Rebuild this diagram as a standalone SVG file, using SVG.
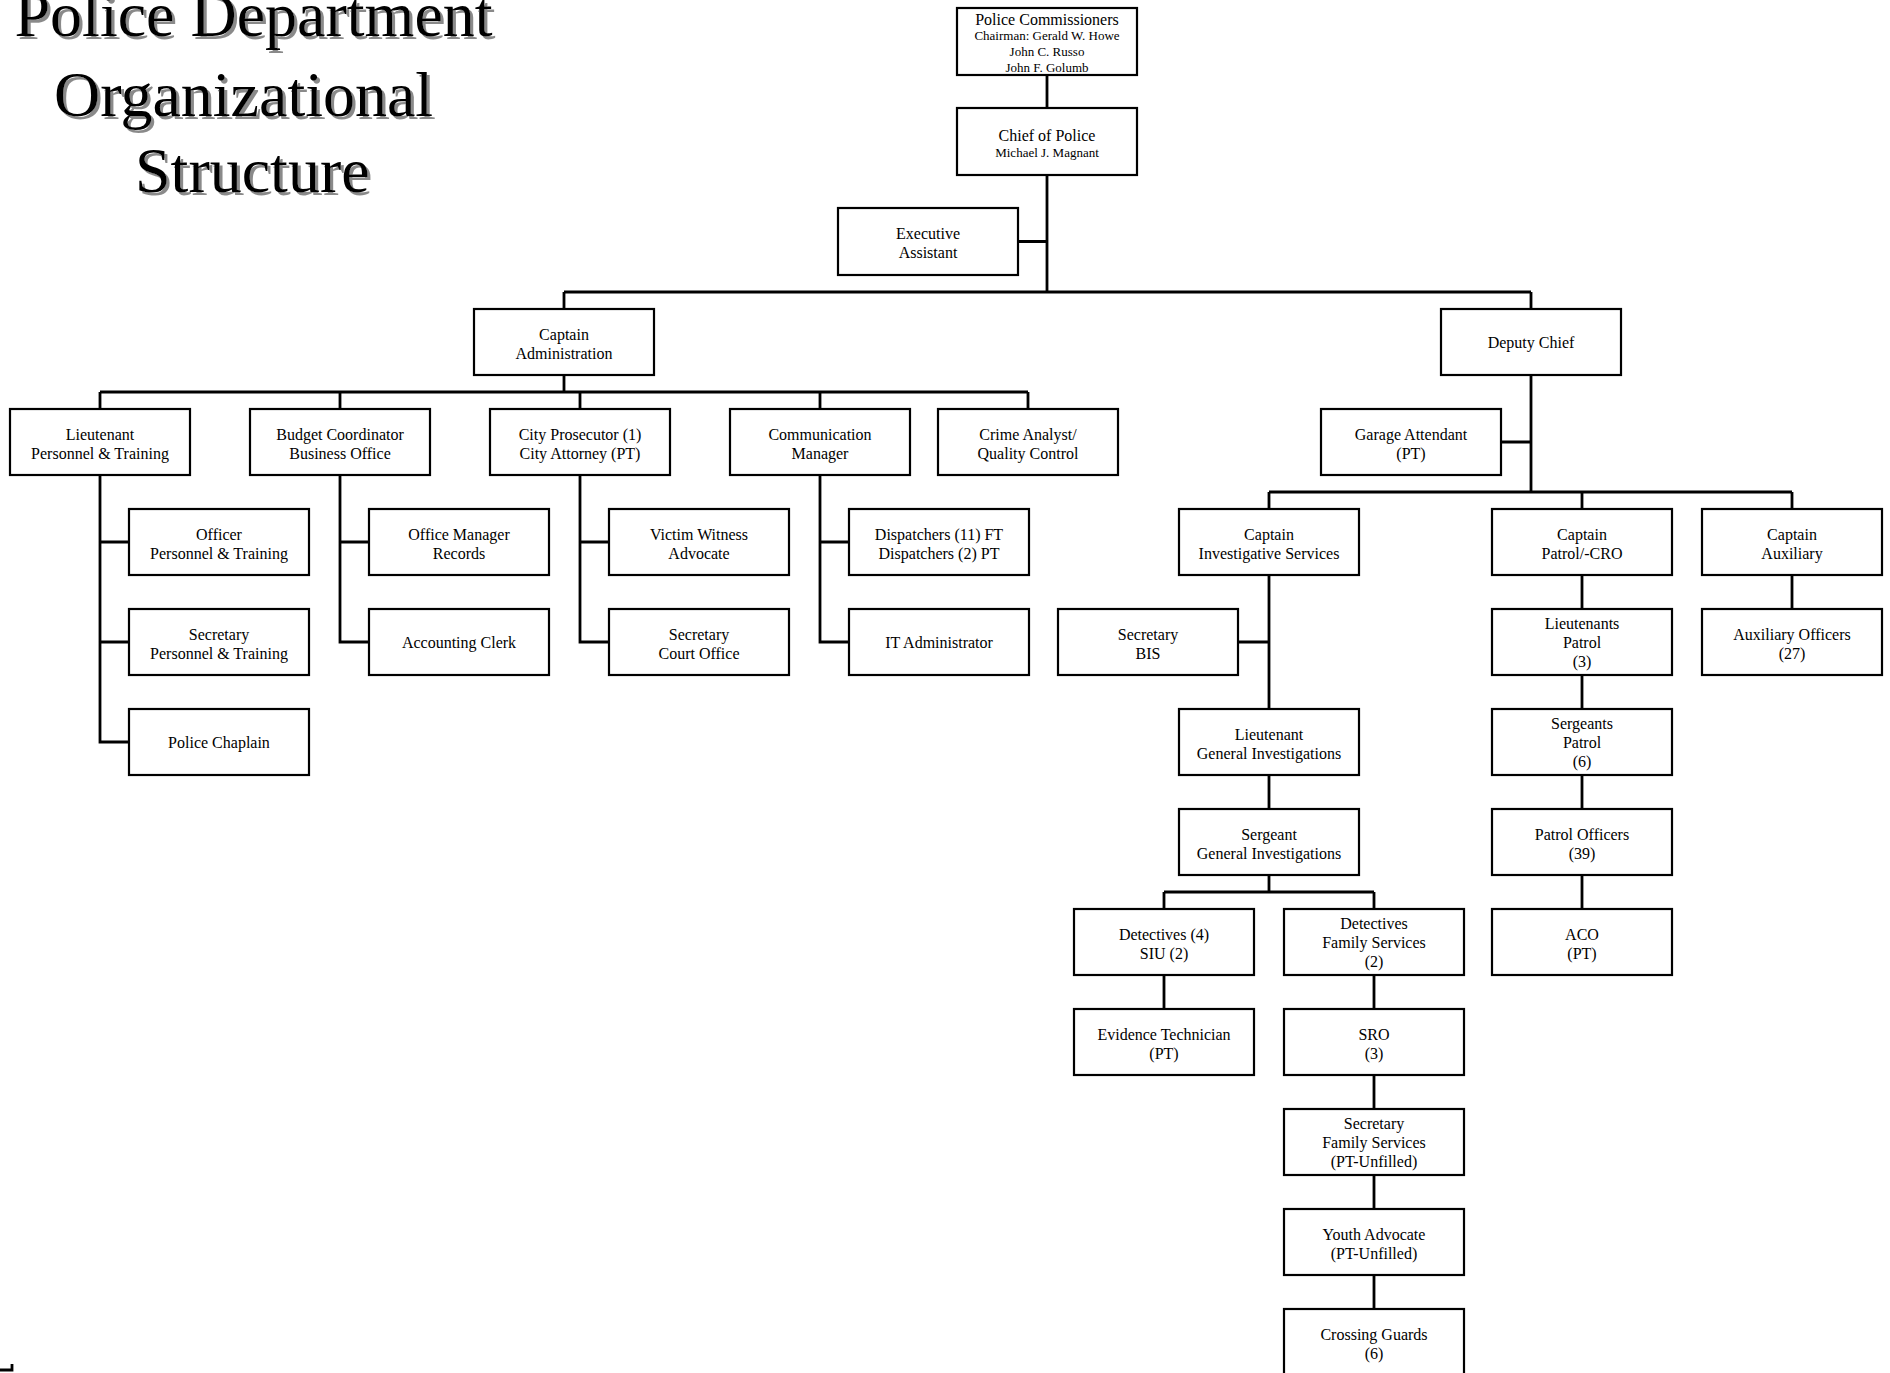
<svg xmlns="http://www.w3.org/2000/svg" width="1890" height="1373" viewBox="0 0 1890 1373">
<defs>
<filter id="shadow" x="-5%" y="-20%" width="115%" height="150%">
<feDropShadow dx="3" dy="3" stdDeviation="0.6" flood-color="#8a8a8a" flood-opacity="1"/>
</filter>
</defs>
<style>
.box{fill:#fff;stroke:#000;stroke-width:2.2}
.t{font-family:"Liberation Serif","Times New Roman",serif;font-size:16px;fill:#000;text-anchor:middle}
.s{font-size:13px}
.title{font-family:"Liberation Serif","Times New Roman",serif;font-size:64px;fill:#000}
.c{fill:none;stroke:#000;stroke-width:2.8}
</style>
<rect width="1890" height="1373" fill="#fff"/>
<g id="title" filter="url(#shadow)">
<text class="title" x="14.5" y="36">Police Department</text>
<text class="title" x="54" y="116">Organizational</text>
<text class="title" x="135" y="192">Structure</text>
</g>
<g id="connectors">
<path class="c" d="M1047,75 V108 M1047,175 V292 M1018,241.5 H1047 M564,292 H1531 M564,292 V309 M1531,292 V309"/>
<path class="c" d="M564,375 V392 M100,392 H1028 M100,392 V409 M340,392 V409 M580,392 V409 M820,392 V409 M1028,392 V409"/>
<path class="c" d="M100,475 V742 H129 M100,542 H129 M100,642 H129"/>
<path class="c" d="M340,475 V642 H369 M340,542 H369"/>
<path class="c" d="M580,475 V642 H609 M580,542 H609"/>
<path class="c" d="M820,475 V642 H849 M820,542 H849"/>
<path class="c" d="M1531,375 V492 M1501,442 H1531 M1269,492 H1792 M1269,492 V509 M1582,492 V509 M1792,492 V509"/>
<path class="c" d="M1269,575 V709 M1238,642 H1269 M1269,775 V809 M1269,875 V892 M1164,892 H1374 M1164,892 V909 M1374,892 V909"/>
<path class="c" d="M1164,975 V1009 M1374,975 V1009 M1374,1075 V1109 M1374,1175 V1209 M1374,1275 V1309"/>
<path class="c" d="M1582,575 V609 M1582,675 V709 M1582,775 V809 M1582,875 V909 M1792,575 V609"/>
<path class="c" d="M0,1370 H12 V1364"/>
</g>
<g id="commissioners"><rect class="box" x="957" y="8" width="180" height="67"/><text class="t" x="1047" y="24.5">Police Commissioners</text><text class="t s" x="1047" y="39.5">Chairman: Gerald W. Howe</text><text class="t s" x="1047" y="56">John C. Russo</text><text class="t s" x="1047" y="71.5">John F. Golumb</text></g>
<g id="chief"><rect class="box" x="957" y="108" width="180" height="67"/><text class="t" x="1047" y="140.5">Chief of Police</text><text class="t s" x="1047" y="156.5">Michael J. Magnant</text></g>
<g id="exec"><rect class="box" x="838" y="208" width="180" height="67"/><text class="t" x="928" y="238.5">Executive</text><text class="t" x="928" y="258">Assistant</text></g>
<g id="capt-admin"><rect class="box" x="474" y="309" width="180" height="66"/><text class="t" x="564" y="339.5">Captain</text><text class="t" x="564" y="359">Administration</text></g>
<g id="deputy"><rect class="box" x="1441" y="309" width="180" height="66"/><text class="t" x="1531" y="347.5">Deputy Chief</text></g>
<g id="lt-pt"><rect class="box" x="10" y="409" width="180" height="66"/><text class="t" x="100" y="439.5">Lieutenant</text><text class="t" x="100" y="459">Personnel &amp; Training</text></g>
<g id="budget"><rect class="box" x="250" y="409" width="180" height="66"/><text class="t" x="340" y="439.5">Budget Coordinator</text><text class="t" x="340" y="459">Business Office</text></g>
<g id="prosecutor"><rect class="box" x="490" y="409" width="180" height="66"/><text class="t" x="580" y="439.5">City Prosecutor (1)</text><text class="t" x="580" y="459">City Attorney (PT)</text></g>
<g id="comm"><rect class="box" x="730" y="409" width="180" height="66"/><text class="t" x="820" y="439.5">Communication</text><text class="t" x="820" y="459">Manager</text></g>
<g id="crime"><rect class="box" x="938" y="409" width="180" height="66"/><text class="t" x="1028" y="439.5">Crime Analyst/</text><text class="t" x="1028" y="459">Quality Control</text></g>
<g id="garage"><rect class="box" x="1321" y="409" width="180" height="66"/><text class="t" x="1411" y="439.5">Garage Attendant</text><text class="t" x="1411" y="459">(PT)</text></g>
<g id="officer-pt"><rect class="box" x="129" y="509" width="180" height="66"/><text class="t" x="219" y="539.5">Officer</text><text class="t" x="219" y="559">Personnel &amp; Training</text></g>
<g id="office-mgr"><rect class="box" x="369" y="509" width="180" height="66"/><text class="t" x="459" y="539.5">Office Manager</text><text class="t" x="459" y="559">Records</text></g>
<g id="victim"><rect class="box" x="609" y="509" width="180" height="66"/><text class="t" x="699" y="539.5">Victim Witness</text><text class="t" x="699" y="559">Advocate</text></g>
<g id="dispatch"><rect class="box" x="849" y="509" width="180" height="66"/><text class="t" x="939" y="539.5">Dispatchers (11) FT</text><text class="t" x="939" y="559">Dispatchers (2) PT</text></g>
<g id="capt-inv"><rect class="box" x="1179" y="509" width="180" height="66"/><text class="t" x="1269" y="539.5">Captain</text><text class="t" x="1269" y="559">Investigative Services</text></g>
<g id="capt-patrol"><rect class="box" x="1492" y="509" width="180" height="66"/><text class="t" x="1582" y="539.5">Captain</text><text class="t" x="1582" y="559">Patrol/-CRO</text></g>
<g id="capt-aux"><rect class="box" x="1702" y="509" width="180" height="66"/><text class="t" x="1792" y="539.5">Captain</text><text class="t" x="1792" y="559">Auxiliary</text></g>
<g id="sec-pt"><rect class="box" x="129" y="609" width="180" height="66"/><text class="t" x="219" y="639.5">Secretary</text><text class="t" x="219" y="659">Personnel &amp; Training</text></g>
<g id="accounting"><rect class="box" x="369" y="609" width="180" height="66"/><text class="t" x="459" y="647.5">Accounting Clerk</text></g>
<g id="sec-court"><rect class="box" x="609" y="609" width="180" height="66"/><text class="t" x="699" y="639.5">Secretary</text><text class="t" x="699" y="659">Court Office</text></g>
<g id="it"><rect class="box" x="849" y="609" width="180" height="66"/><text class="t" x="939" y="647.5">IT Administrator</text></g>
<g id="sec-bis"><rect class="box" x="1058" y="609" width="180" height="66"/><text class="t" x="1148" y="639.5">Secretary</text><text class="t" x="1148" y="659">BIS</text></g>
<g id="lt-patrol"><rect class="box" x="1492" y="609" width="180" height="66"/><text class="t" x="1582" y="628.5">Lieutenants</text><text class="t" x="1582" y="647.5">Patrol</text><text class="t" x="1582" y="667">(3)</text></g>
<g id="aux-officers"><rect class="box" x="1702" y="609" width="180" height="66"/><text class="t" x="1792" y="639.5">Auxiliary Officers</text><text class="t" x="1792" y="659">(27)</text></g>
<g id="chaplain"><rect class="box" x="129" y="709" width="180" height="66"/><text class="t" x="219" y="747.5">Police Chaplain</text></g>
<g id="lt-gi"><rect class="box" x="1179" y="709" width="180" height="66"/><text class="t" x="1269" y="739.5">Lieutenant</text><text class="t" x="1269" y="759">General Investigations</text></g>
<g id="sgt-patrol"><rect class="box" x="1492" y="709" width="180" height="66"/><text class="t" x="1582" y="728.5">Sergeants</text><text class="t" x="1582" y="747.5">Patrol</text><text class="t" x="1582" y="767">(6)</text></g>
<g id="sgt-gi"><rect class="box" x="1179" y="809" width="180" height="66"/><text class="t" x="1269" y="839.5">Sergeant</text><text class="t" x="1269" y="859">General Investigations</text></g>
<g id="patrol-officers"><rect class="box" x="1492" y="809" width="180" height="66"/><text class="t" x="1582" y="839.5">Patrol Officers</text><text class="t" x="1582" y="859">(39)</text></g>
<g id="det-siu"><rect class="box" x="1074" y="909" width="180" height="66"/><text class="t" x="1164" y="939.5">Detectives (4)</text><text class="t" x="1164" y="959">SIU (2)</text></g>
<g id="det-fs"><rect class="box" x="1284" y="909" width="180" height="66"/><text class="t" x="1374" y="928.5">Detectives</text><text class="t" x="1374" y="947.5">Family Services</text><text class="t" x="1374" y="967">(2)</text></g>
<g id="aco"><rect class="box" x="1492" y="909" width="180" height="66"/><text class="t" x="1582" y="939.5">ACO</text><text class="t" x="1582" y="959">(PT)</text></g>
<g id="evidence"><rect class="box" x="1074" y="1009" width="180" height="66"/><text class="t" x="1164" y="1039.5">Evidence Technician</text><text class="t" x="1164" y="1059">(PT)</text></g>
<g id="sro"><rect class="box" x="1284" y="1009" width="180" height="66"/><text class="t" x="1374" y="1039.5">SRO</text><text class="t" x="1374" y="1059">(3)</text></g>
<g id="sec-fs"><rect class="box" x="1284" y="1109" width="180" height="66"/><text class="t" x="1374" y="1128.5">Secretary</text><text class="t" x="1374" y="1147.5">Family Services</text><text class="t" x="1374" y="1167">(PT-Unfilled)</text></g>
<g id="youth"><rect class="box" x="1284" y="1209" width="180" height="66"/><text class="t" x="1374" y="1239.5">Youth Advocate</text><text class="t" x="1374" y="1259">(PT-Unfilled)</text></g>
<g id="crossing"><rect class="box" x="1284" y="1309" width="180" height="66"/><text class="t" x="1374" y="1339.5">Crossing Guards</text><text class="t" x="1374" y="1359">(6)</text></g>
</svg>
